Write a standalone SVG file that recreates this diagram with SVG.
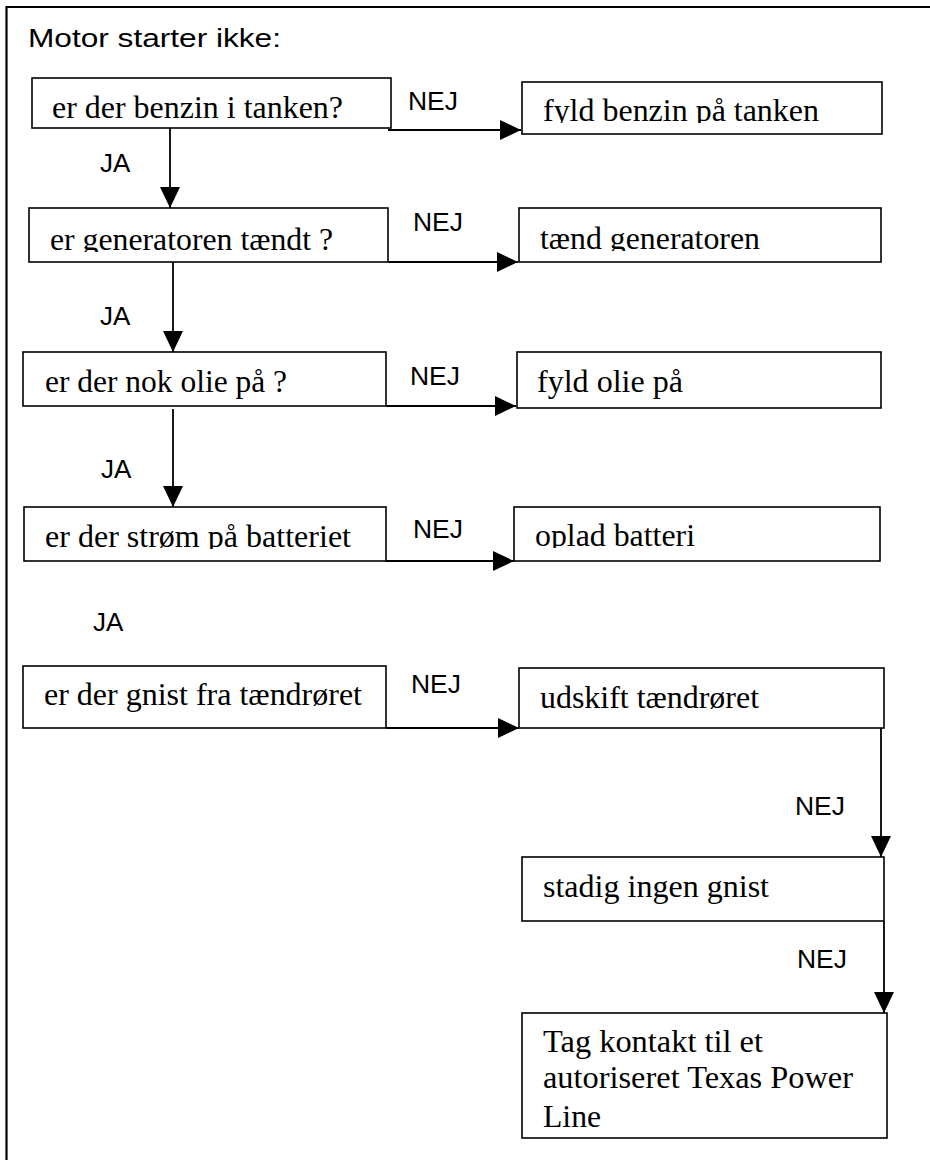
<svg xmlns="http://www.w3.org/2000/svg" width="930" height="1160" viewBox="0 0 930 1160">
<style>
.box{fill:#fff;stroke:#000;stroke-width:1.6}
.t{font-family:"Liberation Serif","Times New Roman",serif;font-size:32px;fill:#000}
.s{font-family:"Liberation Sans",Arial,sans-serif;font-size:26px;fill:#000}
.c{fill:none;stroke:#000;stroke-width:1.8}
</style>
<defs>
<marker id="ah" markerUnits="userSpaceOnUse" markerWidth="22" markerHeight="20" refX="21" refY="10" orient="auto">
<path d="M0,0 L21,10 L0,20 z" fill="#000"/>
</marker>
<clipPath id="c1"><rect x="30" y="76" width="365" height="48"/></clipPath>
<clipPath id="c2"><rect x="520" y="80" width="365" height="43"/></clipPath>
<clipPath id="c3"><rect x="27" y="206" width="365" height="46"/></clipPath>
<clipPath id="c4"><rect x="517" y="206" width="365" height="45"/></clipPath>
<clipPath id="c7"><rect x="22" y="505" width="365" height="44"/></clipPath>
<clipPath id="c8"><rect x="512" y="505" width="365" height="43"/></clipPath>
</defs>
<rect width="930" height="1160" fill="#fff"/>
<path d="M6.5,1160 V7 H930" fill="none" stroke="#000" stroke-width="2.2"/>
<text class="s" x="28" y="47" font-size="30" textLength="253" lengthAdjust="spacingAndGlyphs">Motor starter ikke:</text>
<g id="connectors">
<line class="c" x1="388" y1="130" x2="521" y2="130" marker-end="url(#ah)"/>
<line class="c" x1="170" y1="128" x2="170" y2="208" marker-end="url(#ah)"/>
<line class="c" x1="388" y1="262" x2="518" y2="262" marker-end="url(#ah)"/>
<line class="c" x1="173" y1="262" x2="173" y2="352" marker-end="url(#ah)"/>
<line class="c" x1="386" y1="406" x2="516" y2="406" marker-end="url(#ah)"/>
<line class="c" x1="173" y1="409" x2="173" y2="507" marker-end="url(#ah)"/>
<line class="c" x1="386" y1="561" x2="514" y2="561" marker-end="url(#ah)"/>
<line class="c" x1="386" y1="728" x2="519" y2="728" marker-end="url(#ah)"/>
<line class="c" x1="881" y1="725" x2="881" y2="857" marker-end="url(#ah)"/>
<line class="c" x1="884" y1="921" x2="884" y2="1013" marker-end="url(#ah)"/>
<text class="s" x="408" y="110" textLength="50" lengthAdjust="spacingAndGlyphs">NEJ</text>
<text class="s" x="100" y="172">JA</text>
<text class="s" x="413" y="231" textLength="50" lengthAdjust="spacingAndGlyphs">NEJ</text>
<text class="s" x="100" y="325">JA</text>
<text class="s" x="410" y="385" textLength="50" lengthAdjust="spacingAndGlyphs">NEJ</text>
<text class="s" x="101" y="478">JA</text>
<text class="s" x="413" y="538" textLength="50" lengthAdjust="spacingAndGlyphs">NEJ</text>
<text class="s" x="93" y="631">JA</text>
<text class="s" x="411" y="693" textLength="50" lengthAdjust="spacingAndGlyphs">NEJ</text>
<text class="s" x="795" y="815" textLength="50" lengthAdjust="spacingAndGlyphs">NEJ</text>
<text class="s" x="797" y="968" textLength="50" lengthAdjust="spacingAndGlyphs">NEJ</text>
</g>
<g id="n1"><rect class="box" x="32" y="78" width="359" height="50"/>
<text class="t" x="52" y="118" clip-path="url(#c1)" textLength="291" lengthAdjust="spacingAndGlyphs">er der benzin i tanken?</text></g>
<g id="n2"><rect class="box" x="522" y="82" width="360" height="52"/>
<text class="t" x="543" y="121" clip-path="url(#c2)" textLength="276" lengthAdjust="spacingAndGlyphs">fyld benzin på tanken</text></g>
<g id="n3"><rect class="box" x="29" y="208" width="359" height="54"/>
<text class="t" x="50" y="250" clip-path="url(#c3)" textLength="283" lengthAdjust="spacingAndGlyphs">er generatoren tændt ?</text></g>
<g id="n4"><rect class="box" x="519" y="208" width="362" height="54"/>
<text class="t" x="540" y="249" clip-path="url(#c4)" textLength="220" lengthAdjust="spacingAndGlyphs">tænd generatoren</text></g>
<g id="n5"><rect class="box" x="23" y="352" width="363" height="54"/>
<text class="t" x="45" y="392" textLength="242" lengthAdjust="spacingAndGlyphs">er der nok olie på ?</text></g>
<g id="n6"><rect class="box" x="517" y="352" width="364" height="56"/>
<text class="t" x="537" y="392" textLength="146" lengthAdjust="spacingAndGlyphs">fyld olie på</text></g>
<g id="n7"><rect class="box" x="24" y="507" width="362" height="54"/>
<text class="t" x="45" y="547" clip-path="url(#c7)" textLength="306" lengthAdjust="spacingAndGlyphs">er der strøm på batteriet</text></g>
<g id="n8"><rect class="box" x="514" y="507" width="366" height="54"/>
<text class="t" x="535" y="546" clip-path="url(#c8)" textLength="160" lengthAdjust="spacingAndGlyphs">oplad batteri</text></g>
<g id="n9"><rect class="box" x="23" y="666" width="363" height="62"/>
<text class="t" x="44" y="705" textLength="318" lengthAdjust="spacingAndGlyphs">er der gnist fra tændrøret</text></g>
<g id="n10"><rect class="box" x="519" y="668" width="365" height="60"/>
<text class="t" x="540" y="708" textLength="219" lengthAdjust="spacingAndGlyphs">udskift tændrøret</text></g>
<g id="n11"><rect class="box" x="522" y="857" width="362" height="64"/>
<text class="t" x="543" y="897" textLength="226" lengthAdjust="spacingAndGlyphs">stadig ingen gnist</text></g>
<g id="n12"><rect class="box" x="522" y="1013" width="365" height="125"/>
<text class="t" x="543" y="1052" textLength="220" lengthAdjust="spacingAndGlyphs">Tag kontakt til et</text>
<text class="t" x="543" y="1088" textLength="310" lengthAdjust="spacingAndGlyphs">autoriseret Texas Power</text>
<text class="t" x="543" y="1127" textLength="58" lengthAdjust="spacingAndGlyphs">Line</text></g>
</svg>
